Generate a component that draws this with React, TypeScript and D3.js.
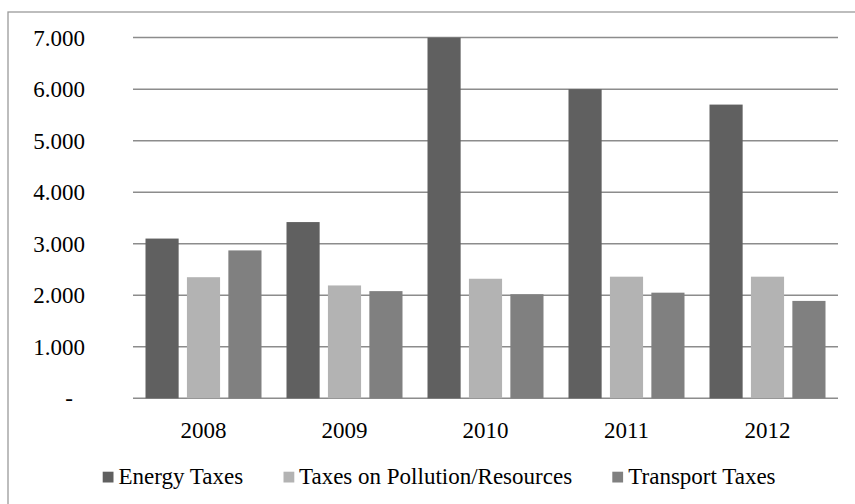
import React from "react";
import * as d3 from "d3";

const years = ["2008", "2009", "2010", "2011", "2012"];
const seriesNames = ["Energy Taxes", "Taxes on Pollution/Resources", "Transport Taxes"];
const energyTaxes = [3100, 3420, 7000, 6000, 5700];
const pollutionTaxes = [2350, 2190, 2320, 2360, 2360];
const transportTaxes = [2870, 2080, 2020, 2050, 1890];
const yTicks = [0, 1000, 2000, 3000, 4000, 5000, 6000, 7000];
const colors = ["#606060", "#b3b3b3", "#808080"];

const W = 855;
const H = 504;
const FONT = "'Liberation Serif', 'Times New Roman', serif";

export default function App() {
  const series = [energyTaxes, pollutionTaxes, transportTaxes];
  const x0 = d3.scaleBand<string>().domain(years).range([133, 838]).padding(0);
  const x1 = d3
    .scaleBand<number>()
    .domain([0, 1, 2])
    .range([12.5, x0.bandwidth() - 12.5])
    .paddingInner(0.2)
    .paddingOuter(0);
  const y = d3.scaleLinear().domain([0, 7000]).range([398.3, 37.6]);

  const fmt = (v: number) => (v === 0 ? "-" : d3.format(",")(v).replace(/,/g, "."));

  const legendItems = [
    { marker: 102.7, text: 118.5 },
    { marker: 283.5, text: 299 },
    { marker: 612.3, text: 628.3 },
  ];

  return (
    <svg width={W} height={H} style={{ position: "absolute", left: 0, top: 0 }}>
      <rect x={0} y={0} width={W} height={H} fill="#ffffff" />
      <rect x={8} y={12} width={W + 20} height={H + 20} fill="none" stroke="#9a9a9a" strokeWidth={1.3} />
      {yTicks.map((t) => (
        <g key={t}>
          <line x1={133} x2={838} y1={y(t)} y2={y(t)} stroke="#8c8c8c" strokeWidth={1.5} />
          <text
            x={t === 0 ? 69 : 85}
            y={y(t)}
            dy="0.35em"
            textAnchor={t === 0 ? "middle" : "end"}
            fontFamily={FONT}
            fontSize={23}
            fill="#000"
          >
            {fmt(t)}
          </text>
        </g>
      ))}
      {years.map((yr, i) => (
        <g key={yr} transform={`translate(${x0(yr)},0)`}>
          {series.map((s, j) => (
            <rect
              key={j}
              x={x1(j)}
              y={y(s[i])}
              width={x1.bandwidth()}
              height={y(0) - y(s[i])}
              fill={colors[j]}
            />
          ))}
          <text
            x={x0.bandwidth() / 2}
            y={438}
            textAnchor="middle"
            fontFamily={FONT}
            fontSize={23}
            fill="#000"
          >
            {yr}
          </text>
        </g>
      ))}
      {seriesNames.map((name, j) => (
        <g key={name}>
          <rect x={legendItems[j].marker} y={471.7} width={10.8} height={10.8} fill={colors[j]} />
          <text x={legendItems[j].text} y={484} fontFamily={FONT} fontSize={23} fill="#000">
            {name}
          </text>
        </g>
      ))}
    </svg>
  );
}
